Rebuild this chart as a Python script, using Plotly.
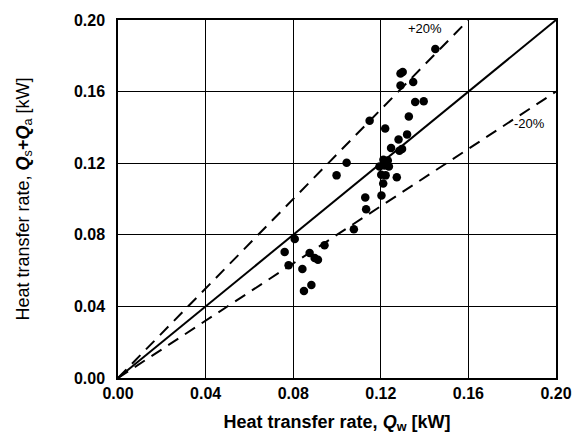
import plotly.graph_objects as go

# Measured points: Qw (x) vs Qs+Qa (y), kW
qw = [0.1449, 0.1290, 0.1300, 0.1290, 0.1348, 0.1357, 0.1396, 0.1328, 0.1149, 0.1220,
      0.1320, 0.1281, 0.1247, 0.1297, 0.1285, 0.1044, 0.0998, 0.1212, 0.1232, 0.1194,
      0.1217, 0.1237, 0.1202, 0.1222, 0.1273, 0.1211, 0.1203, 0.1129, 0.1133, 0.1077,
      0.0943, 0.0875, 0.0898, 0.0913, 0.0842, 0.0807, 0.0761, 0.0779, 0.0883, 0.0849]
qsa = [0.1838, 0.1701, 0.1710, 0.1634, 0.1653, 0.1542, 0.1546, 0.1461, 0.1437, 0.1394,
       0.1361, 0.1333, 0.1285, 0.1280, 0.1270, 0.1202, 0.1132, 0.1219, 0.1215, 0.1182,
       0.1187, 0.1182, 0.1136, 0.1132, 0.1121, 0.1086, 0.1019, 0.1008, 0.0943, 0.0831,
       0.0741, 0.0698, 0.0670, 0.0661, 0.0609, 0.0776, 0.0704, 0.0630, 0.0519, 0.0486]

axis_max = 0.20
ticks = [0.00, 0.04, 0.08, 0.12, 0.16, 0.20]
tick_labels = ["0.00", "0.04", "0.08", "0.12", "0.16", "0.20"]

# Reference lines: slope of parity line and the +/-20% bands
line_slopes = [1.0, 1.25, 0.8]
line_dash = ["solid", "dash", "dash"]
band_labels = ["+20%", "-20%"]
band_label_x = [0.140, 0.188]
band_label_y = [0.195, 0.142]

FONT = "Arial, Liberation Sans, sans-serif"

fig = go.Figure()

for s, d in zip(line_slopes, line_dash):
    x_end = min(axis_max, axis_max / s)
    fig.add_trace(go.Scatter(
        x=[0, x_end], y=[0, s * x_end], mode="lines",
        line=dict(color="black", width=2, dash="solid" if d == "solid" else "12px,8px"),
        showlegend=False, hoverinfo="skip"))

fig.add_trace(go.Scatter(
    x=qw, y=qsa, mode="markers",
    marker=dict(color="black", size=8.5, line=dict(width=0)),
    showlegend=False))

for t, x, y in zip(band_labels, band_label_x, band_label_y):
    fig.add_annotation(x=x, y=y, text=t, showarrow=False,
                       font=dict(family=FONT, size=13, color="black"))

axis_common = dict(
    range=[0, axis_max], tickvals=ticks, ticktext=tick_labels,
    showgrid=True, gridcolor="black", gridwidth=1,
    showline=True, linecolor="black", linewidth=1.5, mirror=True,
    zeroline=False, ticks="", ticklen=0,
    tickfont=dict(family=FONT, size=16, color="black", weight="bold"),
)

fig.update_xaxes(**axis_common, ticklabelstandoff=0,
                 title=dict(text="Heat transfer rate, <i>Q</i><sub>w</sub> [kW]",
                            font=dict(family=FONT, size=18, color="black", weight="bold"),
                            standoff=14))
fig.update_yaxes(**axis_common, ticklabelstandoff=8,
                 title=dict(text="Heat transfer rate, <b><i>Q</i></b><sub>s</sub><b>+<i>Q</i></b><sub>a</sub> [kW]",
                            font=dict(family=FONT, size=18, color="black"),
                            standoff=40))

fig.update_layout(
    width=584, height=446,
    margin=dict(l=118, r=27, t=14, b=68),
    plot_bgcolor="white", paper_bgcolor="white",
)

fig.write_html("out.html")
